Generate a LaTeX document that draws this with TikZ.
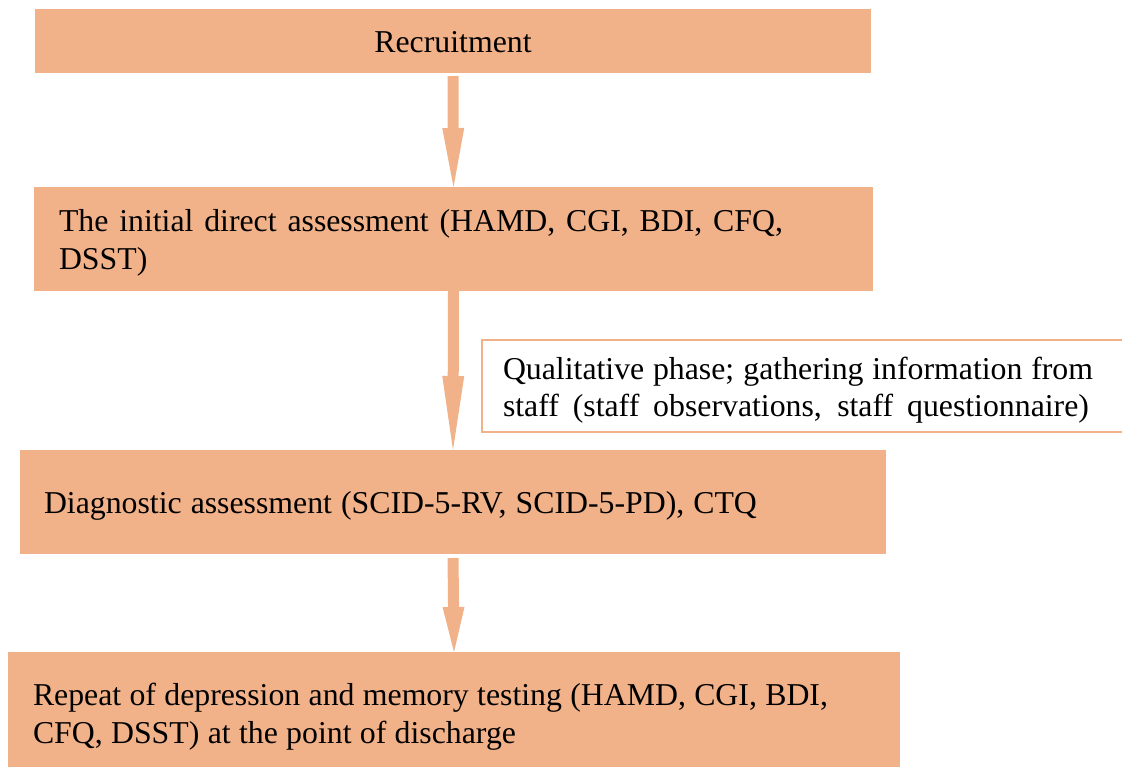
\documentclass[tikz,border=0pt]{standalone}
\usepackage{fontspec}
\setmainfont{Liberation Serif}
\usetikzlibrary{arrows.meta}
\definecolor{peach}{RGB}{242,178,137}
\newcommand{\spreadline}[2]{\makebox[#1][s]{#2}}
\tikzset{
  stage/.style={fill=peach, draw=none, rectangle, outer sep=0pt, inner sep=0pt,
    anchor=north west},
  note/.style={fill=white, draw=peach, line width=1.5pt, rectangle, outer sep=0pt,
    inner sep=0pt, anchor=north west},
  label text/.style={inner sep=0pt, outer sep=0pt, align=left, anchor=base west,
    font=\fontsize{31.8}{#1}\selectfont},
  label text/.default=38,
  flow/.style={draw=peach, line width=11pt},
  head/.style={-{Triangle[width=22pt,length=#1,line width=0pt]}},
}
\begin{document}
\begin{tikzpicture}[x=1pt,y=-1pt]
\useasboundingbox (0,0) rectangle (1122,769);

% boxes
\node[stage, minimum width=836pt, minimum height=64pt]  (rec)  at (35,9) {};
\node[stage, minimum width=839pt, minimum height=104pt] (ini)  at (34,187) {};
\node[note,  minimum width=645pt, minimum height=92pt]  (qual) at (482,340) {};
\node[stage, minimum width=866pt, minimum height=104pt] (diag) at (20,450) {};
\node[stage, minimum width=892pt, minimum height=115pt] (rep)  at (8,652) {};

% texts (multi-line nodes sit on the baseline of their last line)
\node[label text, anchor=base] (recT) at ([shift={(0,43.3)}]rec.north) {Recruitment};
\node[label text=37.6] (iniT) at ([shift={(25,82.3)}]ini.north west)
  {\spreadline{724pt}{The initial direct assessment (HAMD, CGI, BDI, CFQ,}\\DSST)};
\node[label text=37.4] (qualT) at ([shift={(21,76.7)}]qual.north west)
  {\spreadline{590pt}{Qualitative phase; gathering information from}\\
   \spreadline{586pt}{staff (staff observations, staff questionnaire)}};
\node[label text] (diagT) at ([shift={(24,63.3)}]diag.north west)
  {\spreadline{713pt}{Diagnostic assessment (SCID-5-RV, SCID-5-PD), CTQ}};
\node[label text=38.3] (repT) at ([shift={(25,91.3)}]rep.north west)
  {\spreadline{795pt}{Repeat of depression and memory testing (HAMD, CGI, BDI,}\\
   \spreadline{483pt}{CFQ, DSST) at the point of discharge}};

% arrows
\draw[flow, shorten <=3pt, head=59pt] (rec.south) -- (ini.north);
\draw[flow, head=74pt] (ini.south) -- (diag.north);
\draw[flow, shorten <=4pt, head=45pt] (diag.south) -- (rep.north);
\end{tikzpicture}
\end{document}
